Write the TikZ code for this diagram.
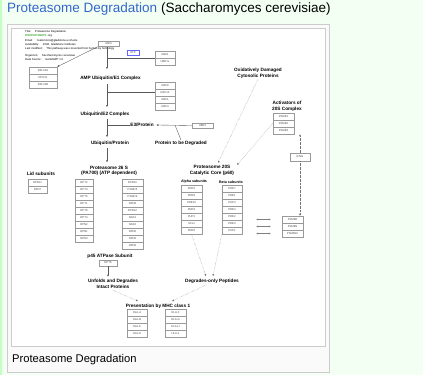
\documentclass[tikz,border=0pt]{standalone}
\usepackage{fontspec}
\setmainfont{Liberation Sans}
\usetikzlibrary{arrows.meta}
\definecolor{pagebg}{HTML}{F4FFF4}
\definecolor{linkblue}{HTML}{3366CC}
\definecolor{boxline}{HTML}{999999}
\definecolor{legendgreen}{HTML}{33AA33}
\tikzset{
  gene/.style={draw=boxline, fill=white, inner sep=0pt, minimum height=7pt,
    text=black!70, font=\fontsize{2.8}{3}\selectfont},
  lbl/.style={inner sep=0.5pt, align=center, font=\fontsize{4.7}{5.6}\selectfont\bfseries},
  sublbl/.style={lbl, font=\fontsize{3.6}{4.2}\selectfont\bfseries},
  flow/.style={draw=black!65, line width=0.35pt},
  dots/.style={draw=black!55, line width=0.35pt, densely dotted},
  sep/.style={draw=boxline, line width=0.9pt}
}
\newcommand{\genestack}[5]{%
  \foreach \g [count=\i] in {#5}
    \node[gene, minimum width=#4pt] (#1\i) at (#2, {#3+7*\i-3.5}) {\g};}
\begin{document}
\begin{tikzpicture}[x=1pt, y=-1pt, >={Latex[length=2pt,width=2pt]}]
\useasboundingbox (0,0) rectangle (423,375);
\fill[pagebg] (0,0) rectangle (423,375);
\fill[green!20!pagebg] (0,0) rectangle (2,375);

\node[anchor=base west, inner sep=0pt, font=\fontsize{13.5}{15}\selectfont] (head) at (7,12)
  {\textcolor{linkblue}{Proteasome Degradation} (Saccharomyces cerevisiae)};
\draw[black!20, fill=black!2] (7.5,24.5) rectangle (329.5,372.5);
\draw[black!20, fill=white] (11.5,28.5) rectangle (325.5,346.5);
\node[anchor=base west, inner sep=0pt, font=\fontsize{11.2}{13}\selectfont] (cap) at (12,362)
  {Proteasome Degradation};

% legend
\node[anchor=north west, align=left, inner sep=0pt, font=\fontsize{2.8}{4.4}\selectfont] (legend) at (25,30)
  {Title: \quad Proteasome Degradation\\
   \textcolor{legendgreen}{\bfseries WIKIPATHWAYS} .org\\
   Email: \quad nsalomonis@gladstone.ucsf.edu\\
   Availability: \quad 2008. Gladstone Institutes\\
   Last modified: \quad This pathway was converted from human by homology\\[2pt]
   Organism: \quad Saccharomyces cerevisiae\\
   Data Source: \quad GenMAPP 1.0};

% genes
\node[gene, minimum width=21pt, minimum height=5pt] (ubi) at (108.5,44) {UBI4};
\node[gene, draw=blue!60, minimum width=12pt, minimum height=5pt] (atp) at (133,52.5) {ATP};
\genestack{ubq}{43}{67}{28}{RPL40A,RPS31,RPL40B}
\genestack{eone}{165}{51}{20}{UBA1,UBE1L}
\genestack{etwo}{165}{82}{20}{UBC8,UBC13,UBC1,UBC4}
\node[gene, minimum width=21pt, minimum height=5pt] (ubr) at (202.5,125.5) {UBR1};
\genestack{lidg}{37.5}{179}{19}{RPN11,RPN7}
\genestack{rpa}{84}{179}{18}{RPT2,RPT3,RPT5,RPT1,RPT6,RPT4,RPN2,RPN1,RPN3}
\genestack{rpb}{132.5}{179}{21}{RPN10,PSMD5,PSMD9,RPN8,RPN12,NAS2,NAS6,RPN6,RPN5,RPN9}
\node[gene, minimum width=18pt, minimum height=6pt] (sug) at (108,263) {RPT6};
\genestack{alpha}{191.5}{185}{21}{PRE5,PRE8,PRE10,PRE9,PUP2,SCL1,PRE6}
\genestack{beta}{232}{185}{20}{PRE7,PRE1,PUP3,PRE4,PRE2,PRE3,PUP1}
\genestack{psmb}{292.5}{216}{21}{PSMB8,PSMB9,PSMB10}
\genestack{psme}{283.5}{113}{21}{PSME1,PSME2,PSME3}
\node[gene, minimum width=20pt, minimum height=8pt] (ifng) at (300,157) {IFNG};
\genestack{mhca}{137}{309}{20}{HLA-A,HLA-B,HLA-C,HLA-E}
\genestack{mhcb}{175.5}{309}{21}{HLA-F,HLA-G,HLA-H,HLA-J}
\draw[sep] (rpa5.south west) -- (rpa5.south east);
\draw[sep] (rpb5.south west) -- (rpb5.south east);
\draw[sep] (alpha4.south west) -- (alpha4.south east);
\draw[sep] (beta4.south west) -- (beta4.south east);

% labels
\node[lbl] (eonec) at (110.5,78) {AMP Ubiquitin/E1 Complex};
\node[lbl] (etwoc) at (105,114) {Ubiquitin/E2 Complex};
\node[lbl] (ethree) at (142,125) {E3/Protein};
\node[lbl] (target) at (181,143) {Protein to be Degraded};
\node[lbl] (ubprot) at (110,143) {Ubiquitin/Protein};
\node[lbl] (ptsix) at (109,171) {Proteasome 26 S\\(PA700) (ATP dependent)};
\node[lbl] (lid) at (41,174) {Lid subunits};
\node[lbl] (atpase) at (110,256) {p45 ATPase Subunit};
\node[lbl] (unfold) at (113,284) {Unfolds and Degrades\\Intact Proteins};
\node[lbl] (ptwenty) at (212,170.5) {Proteasome 20S\\Catalytic Core (p60)};
\node[sublbl] (alab) at (194,182) {Alpha subunits};
\node[sublbl] (blab) at (231,182) {Beta subunits};
\node[lbl] (oxid) at (258,73.5) {Oxidatively Damaged\\Cytosolic Proteins};
\node[lbl] (activ) at (287,106) {Activators of\\20S Complex};
\node[lbl] (pept) at (212,281) {Degrades-only Peptides};
\node[lbl] (mhc) at (158,306) {Presentation by MHC class 1};

% ubiquitination cascade
\coordinate (vx) at (107,0);
\coordinate (join) at (175,125);
\draw[flow, ->] (ubi.south -| vx) -- ([yshift=6pt]eonec.north -| vx);
\draw[flow] (eone1.south west) -- (eone1.south west -| vx);
\draw[flow, ->] ([yshift=-3pt]eonec.south -| vx) -- ([yshift=4pt]etwoc.north -| vx);
\draw[flow] (etwo2.west) -- (etwo2.west -| vx);
\draw[flow, ->] ([yshift=-2pt]etwoc.south -| vx) -- ([yshift=3pt]ubprot.north -| vx);
\draw[flow] (ethree.west) -- (ethree.west -| vx);
\draw[flow, ->] (ubr.west) -- ([xshift=2pt]ethree.east);
\draw[flow] (target.north) -- (join);
\draw[flow, ->] (ubi.south west) -- (ubq3.north east |- ubq1.north);
\draw[flow, ->] ([yshift=-2pt]ubprot.south -| vx) -- ([yshift=3pt]ptsix.north -| vx);

% 26S branch
\draw[flow, ->] (sug.south) -- ([yshift=2pt]unfold.north -| sug.south);
\draw[dots, ->] ([yshift=-1pt]unfold.south) -- ([xshift=-20pt,yshift=2pt]mhc.north);
\draw[dots, ->] ([xshift=-6pt,yshift=-1pt]pept.south) -- ([xshift=14pt,yshift=2pt]mhc.north);

% 20S branch
\draw[dots, ->] (oxid.south) -- ([xshift=6pt,yshift=2pt]ptwenty.north);
\draw[dots, ->] (psme2.west) -- ([xshift=25pt,yshift=0pt]ptwenty.north);
\draw[dots, ->] (ifng.north) -- (psme3.south -| ifng.north);
\draw[dots, ->] (ifng.south) -- (psmb1.north -| ifng.south);
\draw[dots, ->] (alpha7.south) -- ([xshift=-6pt,yshift=2pt]pept.north);
\draw[dots, ->] (beta7.south west) -- ([xshift=1pt,yshift=2pt]pept.north);
\foreach \k in {1,2,3}
  \draw[draw=black!50, line width=0.3pt, <->, shorten <=11pt, shorten >=14pt] (psmb\k.west) -- (psmb\k.west -| beta1.east);
\end{tikzpicture}
\end{document}
